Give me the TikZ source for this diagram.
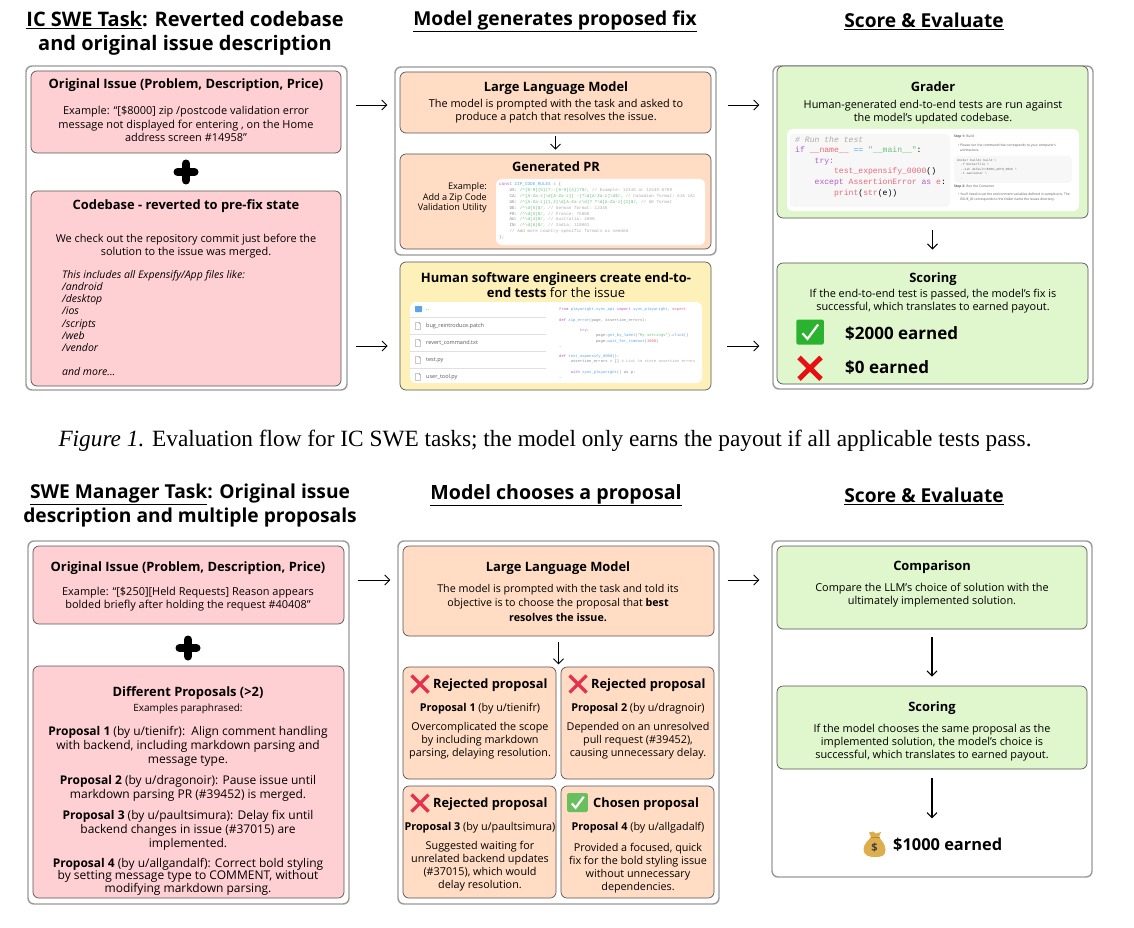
\documentclass[tikz,border=0pt]{standalone}
\usepackage{fontspec}
\usetikzlibrary{arrows.meta,calc}
\setmainfont{Open Sans}
\setmonofont{Liberation Mono}
\newfontfamily\capfont{Liberation Serif}
\definecolor{pinkf}{HTML}{FFD0D3}
\definecolor{orangef}{HTML}{FFDCC3}
\definecolor{yellowf}{HTML}{FEF0B9}
\definecolor{greenf}{HTML}{E0F6CC}
\definecolor{edgeg}{HTML}{999999}
\definecolor{edged}{HTML}{555555}
\definecolor{kwp}{HTML}{B45CC8}
\definecolor{kwb}{HTML}{5AA5E6}
\definecolor{kwg}{HTML}{6CC07A}
\definecolor{kwr}{HTML}{E8687A}
\definecolor{cmt}{HTML}{AAAAAA}
\definecolor{codeink}{HTML}{888888}
\definecolor{crossred}{HTML}{E5304E}
\definecolor{brightred}{HTML}{E60F14}
\definecolor{okgreen}{HTML}{69BE5E}
\definecolor{brightgreen}{HTML}{2BB32F}
\definecolor{baggold}{HTML}{DDAE4E}
\definecolor{bagdark}{HTML}{B98A30}
\newcommand\fsz[2]{\fontsize{#1}{#2}\selectfont}
\newcommand\bsl{\textbackslash}
\newcommand\crt{\textasciicircum}
\newcommand\ind[1]{\phantom{#1}}
\newcommand\kP[1]{\textcolor{kwp}{#1}}
\newcommand\kB[1]{\textcolor{kwb}{#1}}
\newcommand\kG[1]{\textcolor{kwg}{#1}}
\newcommand\kR[1]{\textcolor{kwr}{#1}}
\newcommand\kC[1]{\textcolor{cmt}{#1}}
% box by corners
\newcommand\bx[6]{\node[#1,minimum width={(#5-#3)*1pt},minimum height={(#6-#4)*1pt}] (#2) at ({(#3+#5)/2},{(#4+#6)/2}) {};}
\newcommand\crossmark[2]{\draw[crossline] (#1-8.5,#2-8.5) -- (#1+8.5,#2+8.5) (#1-8.5,#2+8.5) -- (#1+8.5,#2-8.5);}
\newcommand\checkmarkbox[4][okgreen]{\begin{scope}[shift={(#2,#3)},scale=#4]
  \fill[#1,rounded corners=1.5] (-11,-10) rectangle (11,10);
  \draw[checkline] (-6,1) -- (-2,5.5) -- (6.5,-6);\end{scope}}
\newcommand\plusmark[2]{\draw[plusline] (#1-8.5,#2) -- (#1+8.5,#2) (#1,#2-8.5) -- (#1,#2+8.5);}
\newcommand\fileicon[2]{\draw[fileline] (#1-2.5,#2-3.5) -- (#1+1,#2-3.5) -- (#1+2.5,#2-2) -- (#1+2.5,#2+3.5) -- (#1-2.5,#2+3.5) -- cycle;}
\tikzset{
  outer/.style={draw=edgeg,line width=1.4pt,rounded corners=6pt,fill=white,inner sep=0pt},
  card/.style={draw=edged,line width=.7pt,rounded corners=6pt,inner sep=0pt},
  pinkbox/.style={card,fill=pinkf},
  orangebox/.style={card,fill=orangef},
  yellowbox/.style={card,fill=yellowf},
  greenbox/.style={card,fill=greenf},
  whitepanel/.style={fill=white,rounded corners=6pt,inner sep=0pt},
  graypanel/.style={fill=black!3,rounded corners=4pt,inner sep=0pt},
  head/.style={align=center,inner sep=0pt,font=\bfseries\fsz{19.2}{24}},
  ttl/.style={align=center,inner sep=0pt,yshift=-1pt,font=\bfseries\fsz{12.9}{14}},
  body/.style={align=center,inner sep=0pt,yshift=-1pt,font=\fsz{10.95}{13.3}},
  bodyt/.style={align=center,inner sep=0pt,yshift=-1pt,font=\fsz{10.9}{13}},
  card ttl/.style={anchor=west,inner sep=0pt,yshift=-1pt,font=\bfseries\fsz{12.8}{14}},
  card sub/.style={align=center,inner sep=0pt,yshift=-1pt,font=\fsz{10.8}{13}},
  earn/.style={anchor=west,inner sep=0pt,yshift=-1pt,font=\bfseries\fsz{17}{18}},
  lst/.style={align=left,anchor=north west,inner sep=0pt,yshift=-1pt,font=\itshape\fsz{10.5}{12.2}},
  prop/.style={align=center,inner sep=0pt,yshift=-1pt,font=\fsz{12}{14}},
  zipcode/.style={align=left,anchor=north west,inner sep=0pt,font=\ttfamily\fsz{4.3}{5.85},text=codeink},
  pycode/.style={align=left,anchor=north west,inner sep=0pt,font=\ttfamily\fsz{3.85}{5.2},text=codeink},
  graderc/.style={align=left,anchor=north west,inner sep=0pt,font=\ttfamily\fsz{8.1}{10.6}},
  tinyt/.style={align=left,anchor=west,inner sep=0pt,font=\fsz{3.3}{5},text=black!65},
  filet/.style={anchor=west,inner sep=0pt,font=\fsz{5.5}{7},text=black!65},
  arr/.style={-{Straight Barb[length=5pt,width=10pt]},line width=.9pt,black},
  crossline/.style={crossred,line width=3.2pt},
  bigcross/.style={brightred,line width=5pt},
  checkline/.style={white,line width=2.2pt},
  plusline/.style={black,line width=8pt,line cap=round},
  fileline/.style={black!60,line width=.45pt,line join=round},
  sepline/.style={black!12,line width=.5pt},
}
\begin{document}
\begin{tikzpicture}[x=1pt,y=-1pt]
\useasboundingbox (0,0) rectangle (1134,928);
% headings
\node[head,font=\bfseries\fsz{20}{24}] (h1) at (185,33.5) {\underline{IC SWE Task}: Reverted codebase\\and original issue description};
\node[head] (h2) at (555,21.5) {\underline{Model generates proposed fix}};
\node[head] (h3) at (924,21.5) {\underline{Score \& Evaluate}};
\node[head] (h4) at (190,505.5) {\underline{SWE Manager Task}: Original issue\\description and multiple proposals};
\node[head,font=\bfseries\fsz{19.6}{24}] (h5) at (556,495) {\underline{Model chooses a proposal}};
\node[head] (h6) at (924,496.5) {\underline{Score \& Evaluate}};
\node[inner sep=0pt,font=\capfont\fsz{23.3}{24}] (cap) at (545,441) {\textit{Figure 1.} Evaluation flow for IC SWE tasks; the model only earns the payout if all applicable tests pass.};
% ---- top left
\bx{outer}{oa}{26}{66}{347}{390}
\bx{pinkbox}{a1}{31}{71}{341}{153}
\plusmark{186}{172}
\bx{pinkbox}{a2}{31}{191}{341}{386}
\node[ttl] (a1t) at (186,84) {Original Issue (Problem, Description, Price)};
\node[body] (a1b) at (186,123) {Example: ``[\$8000] zip /postcode validation error\\message not displayed for entering , on the Home\\address screen \#14958''};
\node[ttl] (a2t) at (186,205) {Codebase - reverted to pre-fix state};
\node[bodyt] (a2b) at (186,245) {We check out the repository commit just before the\\solution to the issue was merged.};
\node[lst] (a2l) at (62,269) {This includes all Expensify/App files like:\\/android\\/desktop\\/ios\\/scripts\\/web\\/vendor\\\mbox{}\\and more...};
% ---- top middle
\bx{outer}{ob}{395}{67}{716}{255}
\bx{orangebox}{b1}{400}{72}{711}{133}
\bx{orangebox}{b2}{400}{154}{711}{249}
\bx{yellowbox}{b3}{400}{262}{711}{390}
\node[ttl] (b1t) at (556,87) {Large Language Model};
\node[bodyt] (b1b) at (556,110) {The model is prompted with the task and asked to\\produce a patch that resolves the issue.};
\draw[arr] ($(b1.south)+(0,3)$) -- ($(b2.north)+(0,-4)$);
\node[ttl] (b2t) at (556,166) {Generated PR};
\node[align=right,anchor=east,inner sep=0pt,font=\fsz{9.1}{10.5}] (b2e) at (487,198) {Example:\\Add a Zip Code\\Validation Utility};
\bx{whitepanel}{b2p}{496}{179}{705}{245}
\node[zipcode] (b2c) at (499,182.5) {\kP{const} \kB{ZIP\_CODE\_RULES} = \{\\
\ind{xxxx}US: \kG{/\crt[0-9]\{5\}(?:-[0-9]\{4\})?\$/,} \kC{// Example: 12345 or 12345-6789}\\
\ind{xxxx}CA: \kG{/\crt[A-Za-z]\bsl d[A-Za-z][ -]?\bsl d[A-Za-z]\bsl d\$/,} \kC{// Canadian format: A1A 1A1}\\
\ind{xxxx}UK: \kG{/\crt[A-Za-z]\{1,2\}\bsl d[A-Za-z\bsl d]? ?\bsl d[A-Za-z]\{2\}\$/,} \kC{// UK format}\\
\ind{xxxx}DE: \kG{/\crt\bsl d\{5\}\$/,} \kC{// German format: 12345}\\
\ind{xxxx}FR: \kG{/\crt\bsl d\{5\}\$/,} \kC{// France: 75008}\\
\ind{xxxx}AU: \kG{/\crt\bsl d\{4\}\$/,} \kC{// Australia: 2000}\\
\ind{xxxx}IN: \kG{/\crt\bsl d\{6\}\$/,} \kC{// India: 110001}\\
\ind{xxxx}\kC{// Add more country-specific formats as needed}\\
\};};
\node[ttl,font=\fsz{13}{15.5}] (b3t) at (556,284) {\textbf{Human software engineers create end-to-}\\\textbf{end tests} for the issue};
\bx{whitepanel}{b3p}{410}{302}{702}{383}
\foreach \yy in {317,334,351,368}{\draw[sepline] (410,\yy) -- (546,\yy);}
\fill[kwb,rounded corners=.6] (415,306) rectangle (422,312);
\node[filet] (f0) at (426,310) {..};
\fileicon{418}{326}\node[filet] (f1) at (426,326) {bug\_reintroduce.patch};
\fileicon{418}{343}\node[filet] (f2) at (426,343) {revert\_command.txt};
\fileicon{418}{360}\node[filet] (f3) at (426,360) {test.py};
\fileicon{418}{377}\node[filet] (f4) at (426,377) {user\_tool.py};
\node[pycode] (b3c) at (559,308) {\kP{from} \kB{playwright.sync\_api} \kP{import} \kB{sync\_playwright}, \kR{expect}\\\mbox{}\\
\kP{def} \kB{zip\_error}(page, assertion\_errors):\\\mbox{}\\
\ind{xxxxxxxxx}\kP{try:}\\
\ind{xxxxxxxxxxxxxxxx}page.\kB{get\_by\_label}(\kG{"My settings"}).\kB{click}()\\
\ind{xxxxxxxxxxxxxxxx}page.\kB{wait\_for\_timeout}(\kR{3000})\\
\ldots\\\mbox{}\\
\kP{def} \kB{test\_expensify\_0000}():\\
\ind{xxxxx}assertion\_errors = [] \kC{\# List to store assertion errors}\\\mbox{}\\
\ind{xxxxx}\kP{with} \kB{sync\_playwright}() \kP{as} p:\\
\ldots};
% ---- top right
\bx{outer}{oc}{773}{66}{1093}{389}
\bx{greenbox}{c1}{777}{66}{1088}{218}
\node[ttl] (c1t) at (933,86) {Grader};
\node[bodyt] (c1b) at (933,111.5) {Human-generated end-to-end tests are run against\\the model's updated codebase.};
\bx{whitepanel}{c1p}{787}{129}{1079}{211}
\bx{graypanel}{c1g}{790}{134}{950}{207}
\node[graderc] (c1c) at (795,136) {\textit{\kC{\# Run the test}}\\
\kP{if} \kR{\_\_name\_\_} \kB{==} \kG{"\_\_main\_\_"}:\\
\ind{xxxx}\kP{try:}\\
\ind{xxxxxxxx}\kR{test\_expensify\_0000}()\\
\ind{xxxx}\kP{except} \kR{AssertionError} \kP{as} \kR{e}:\\
\ind{xxxxxxxx}\kR{print}(\kR{str}(e))};
\node[tinyt] (d1) at (954,137) {\textbf{Step 1:} Build};
\node[tinyt] (d2) at (958,147.5) {• Please run the command that corresponds to your computer's\\\ \ architecture.};
\bx{graypanel}{d3}{954}{156}{1072}{183}
\node[align=left,anchor=north west,inner sep=0pt,font=\ttfamily\fsz{3.1}{4.4},text=black!60] (d4) at (957,159) {docker buildx build \bsl\\\ \ -f Dockerfile \bsl\\\ \ --ssh default=\$SSH\_AUTH\_SOCK \bsl\\\ \ -t swelancer \bsl\\\ \ .};
\node[tinyt] (d5) at (954,187) {\textbf{Step 2:} Run the Container};
\node[tinyt] (d6) at (958,197.5) {• You'll need to set the environment variables defined in sample.env. The\\\ \ ISSUE\_ID corresponds to the folder name the issues directory.};
\bx{greenbox}{c2}{777}{263}{1088}{384}
\draw[arr,line width=1.1pt] ($(c1.south)+(0,12)$) -- ($(c2.north)+(0,-13)$);
\node[ttl] (c2t) at (933,278) {Scoring};
\node[bodyt] (c2b) at (933,300.5) {If the end-to-end test is passed, the model's fix is\\successful, which translates to earned payout.};
\checkmarkbox[brightgreen]{810}{332}{1.25}
\node[earn] (c2e) at (845,333) {\$2000 earned};
\draw[bigcross] (799,357.5) -- (821,379) (799,379) -- (821,357.5);
\node[earn] (c2f) at (845,367) {\$0 earned};
% ---- bottom left
\bx{outer}{od}{28}{541}{349}{904}
\bx{pinkbox}{e1}{33}{546}{344}{624}
\plusmark{188}{648}
\bx{pinkbox}{e2}{33}{666}{344}{898}
\node[ttl] (e1t) at (188,567) {Original Issue (Problem, Description, Price)};
\node[body] (e1b) at (188,598) {Example: ``[\$250][Held Requests] Reason appears\\bolded briefly after holding the request \#40408''};
\node[ttl] (e2t) at (188,692) {Different Proposals (>2)};
\node[bodyt,font=\fsz{10}{13}] (e2x) at (188,708) {Examples paraphrased:};
\node[prop] (p1) at (188,745) {\textbf{Proposal 1} (by u/tienifr):\ \ Align comment handling\\with backend, including markdown parsing and\\message type.};
\node[prop] (p2) at (188,787) {\textbf{Proposal 2} (by u/dragonoir): Pause issue until\\markdown parsing PR (\#39452) is merged.};
\node[prop] (p3) at (188,829.5) {\textbf{Proposal 3} (by u/paultsimura): Delay fix until\\backend changes in issue (\#37015) are\\implemented.};
\node[prop,font=\fsz{12}{12.6}] (p4) at (188,875.5) {\textbf{Proposal 4} (by u/allgandalf): Correct bold styling\\by setting message type to COMMENT, without\\modifying markdown parsing.};
% ---- bottom middle
\bx{outer}{oe}{398}{541}{719}{904}
\bx{orangebox}{g0}{403}{546}{714}{636}
\node[ttl] (g0t) at (558,567) {Large Language Model};
\node[bodyt,font=\fsz{10.7}{14.5}] (g0b) at (558,601.5) {The model is prompted with the task and told its\\objective is to choose the proposal that \textbf{best}\\\textbf{resolves the issue.}};
\bx{orangebox}{g1}{403}{667}{556}{779}
\bx{orangebox}{g2}{561}{667}{714}{779}
\bx{orangebox}{g3}{403}{786}{556}{898}
\bx{orangebox}{g4}{561}{786}{714}{898}
\draw[arr] ($(g0.south)+(0,6)$) -- ($(g0.south)+(0,28)$);
\crossmark{420}{684}
\node[card ttl] (g1t) at (433,684) {Rejected proposal};
\node[card sub] (g1s) at (480,708) {\textbf{Proposal 1} (by u/tienifr)};
\node[card sub] (g1b) at (480,740) {Overcomplicated the scope\\by including markdown\\parsing, delaying resolution.};
\crossmark{578}{684}
\node[card ttl] (g2t) at (591,684) {Rejected proposal};
\node[card sub] (g2s) at (638,708) {\textbf{Proposal 2} (by u/dragnoir)};
\node[card sub] (g2b) at (638,740) {Depended on an unresolved\\pull request (\#39452),\\causing unnecessary delay.};
\crossmark{420}{803}
\node[card ttl] (g3t) at (433,803) {Rejected proposal};
\node[card sub] (g3s) at (480,827) {\textbf{Proposal 3} (by u/paultsimura)};
\node[card sub] (g3b) at (480,865.5) {Suggested waiting for\\unrelated backend updates\\(\#37015), which would\\delay resolution.};
\checkmarkbox{577.5}{802.5}{.95}
\node[card ttl] (g4t) at (593,803) {Chosen proposal};
\node[card sub] (g4s) at (638,827) {\textbf{Proposal 4} (by u/allgadalf)};
\node[card sub] (g4b) at (638,867) {Provided a focused, quick\\fix for the bold styling issue\\without unnecessary\\dependencies.};
% ---- bottom right
\bx{outer}{of}{772}{541}{1092}{877}
\bx{greenbox}{k1}{777}{546}{1087}{629}
\bx{greenbox}{k2}{777}{686}{1087}{769}
\node[ttl] (k1t) at (932,566) {Comparison};
\node[bodyt] (k1b) at (932,594) {Compare the LLM's choice of solution with the\\ultimately implemented solution.};
\node[ttl] (k2t) at (932,707) {Scoring};
\node[bodyt] (k2b) at (932,741.5) {If the model chooses the same proposal as the\\implemented solution, the model's choice is\\successful, which translates to earned payout.};
\draw[arr,line width=1.1pt] ($(k1.south)+(0,8)$) -- ($(k2.north)+(0,-9)$);
\draw[arr,line width=1.1pt] ($(k2.south)+(0,9)$) -- ($(k2.south)+(0,49)$);
\fill[baggold] (871,837) .. controls (869,840) and (863,844) .. (863.5,850) .. controls (864,856) and (870,857) .. (875,857) .. controls (881,857) and (885.5,856) .. (885.5,850) .. controls (885.5,844) and (881,840) .. (879,837) -- (881,832) -- (876,833.5) -- (873,831.5) -- (869,832.5) -- cycle;
\draw[bagdark,line width=1pt] (870.5,837) -- (879.5,837);
\node[inner sep=0pt,font=\bfseries\fsz{11}{12},text=black!75] (bagd) at (874.5,848) {\$};
\node[earn,font=\bfseries\fsz{16.4}{18}] (k3) at (893,844) {\$1000 earned};
% ---- connectors between columns
\coordinate (ya) at (0,105);
\coordinate (yb) at (0,346);
\coordinate (yc) at (0,580);
\draw[arr] ($(oa.east |- ya)+(8,0)$) -- ($(ob.west |- ya)+(-7,0)$);
\draw[arr] ($(oa.east |- yb)+(8,0)$) -- ($(b3.west |- yb)+(-12,0)$);
\draw[arr] ($(ob.east |- ya)+(11,0)$) -- ($(oc.west |- ya)+(-13,0)$);
\draw[arr] ($(b3.east |- yb)+(16,0)$) -- ($(oc.west |- yb)+(-13,0)$);
\draw[arr] ($(od.east |- yc)+(8,0)$) -- ($(oe.west |- yc)+(-7,0)$);
\draw[arr] ($(oe.east |- yc)+(8,0)$) -- ($(of.west |- yc)+(-12,0)$);
\end{tikzpicture}
\end{document}
